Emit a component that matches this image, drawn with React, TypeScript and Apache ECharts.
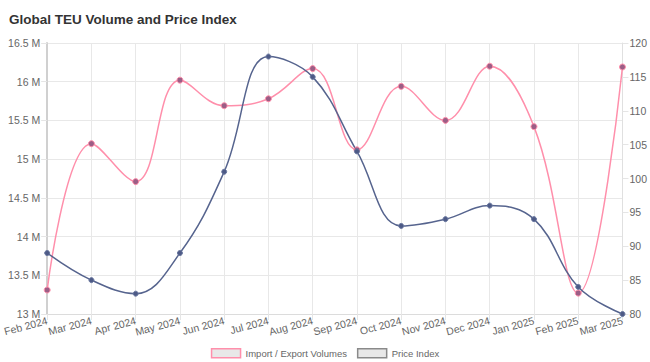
import React, { useEffect, useRef } from "react";
import * as echarts from "echarts";

const months = [
  "Feb 2024", "Mar 2024", "Apr 2024", "May 2024", "Jun 2024", "Jul 2024", "Aug 2024",
  "Sep 2024", "Oct 2024", "Nov 2024", "Dec 2024", "Jan 2025", "Feb 2025", "Mar 2025",
];
const volumes = [
  13.31e6, 15.2e6, 14.71e6, 16.02e6, 15.69e6, 15.78e6, 16.17e6,
  15.12e6, 15.94e6, 15.5e6, 16.2e6, 15.42e6, 13.27e6, 16.19e6,
];
const priceIndex = [89, 85, 83, 89, 101, 118, 115, 104, 93, 94, 96, 94, 84, 80];

const FONT = "'Liberation Sans', Arial, Helvetica, sans-serif";

export default function App() {
  const ref = useRef<HTMLDivElement>(null);
  useEffect(() => {
    if (!ref.current) return;
    const chart = echarts.init(ref.current, undefined, { renderer: "svg" });
    chart.setOption({
      animation: false,
      textStyle: { fontFamily: FONT },
      title: {
        text: "Global TEU Volume and Price Index",
        left: 4,
        top: 7,
        textStyle: { fontSize: 13.5, fontWeight: "bold", color: "#333", fontFamily: FONT },
      },
      legend: {
        top: 343,
        left: "center",
        icon: "rect",
        itemWidth: 29,
        itemHeight: 9,
        itemGap: 10,
        textStyle: { fontSize: 9.5, color: "#666", fontFamily: FONT },
        data: [
          { name: "Import / Export Volumes", itemStyle: { color: "#e8e8e8", borderColor: "#ff8fab", borderWidth: 1.5 } },
          { name: "Price Index", itemStyle: { color: "#e8e8e8", borderColor: "#8a8a8a", borderWidth: 1.5 } },
        ],
      },
      grid: { left: 43, right: 27, top: 43, bottom: 48, containLabel: false },
      xAxis: {
        type: "category",
        data: months,
        boundaryGap: false,
        axisLine: { show: true, lineStyle: { color: "#dcdcdc" } },
        axisTick: { show: true, length: 6, lineStyle: { color: "#e5e5e5" } },
        axisLabel: { rotate: 15, fontSize: 10.5, color: "#666", margin: 6, interval: 0, fontFamily: FONT },
        splitLine: { show: true, lineStyle: { color: "#e8e8e8" } },
      },
      yAxis: [
        {
          type: "value",
          min: 13e6,
          max: 16.5e6,
          interval: 5e5,
          axisLine: { show: true, lineStyle: { color: "#d0d0d0", width: 2 } },
          axisTick: { show: true, length: 6, lineStyle: { color: "#e5e5e5" } },
          axisLabel: {
            fontSize: 10.5,
            color: "#666",
            margin: 7,
            fontFamily: FONT,
            formatter: (v: number) => `${Math.round(v / 1e5) / 10} M`,
          },
          splitLine: { show: true, lineStyle: { color: "#e8e8e8" } },
        },
        {
          type: "value",
          min: 80,
          max: 120,
          interval: 5,
          position: "right",
          axisLine: { show: true, lineStyle: { color: "#e0e0e0" } },
          axisTick: { show: true, length: 6, lineStyle: { color: "#e5e5e5" } },
          axisLabel: { fontSize: 10.5, color: "#666", margin: 7, fontFamily: FONT },
          splitLine: { show: false },
        },
      ],
      series: [
        {
          name: "Import / Export Volumes",
          type: "line",
          data: volumes,
          yAxisIndex: 0,
          smooth: 0.4,
          symbol: "circle",
          symbolSize: 6,
          lineStyle: { color: "#ff8fab", width: 1.5 },
          itemStyle: { color: "#9c5e86", borderColor: "#ff8fab", borderWidth: 1 },
        },
        {
          name: "Price Index",
          type: "line",
          data: priceIndex,
          yAxisIndex: 1,
          smooth: 0.4,
          symbol: "circle",
          symbolSize: 5,
          lineStyle: { color: "#56648e", width: 1.5 },
          itemStyle: { color: "#4d5a86", borderColor: "#6a78a0", borderWidth: 1 },
        },
      ],
    });
    return () => chart.dispose();
  }, []);
  return <div ref={ref} style={{ width: 650, height: 362, position: "absolute", left: 0, top: 0 }} />;
}
